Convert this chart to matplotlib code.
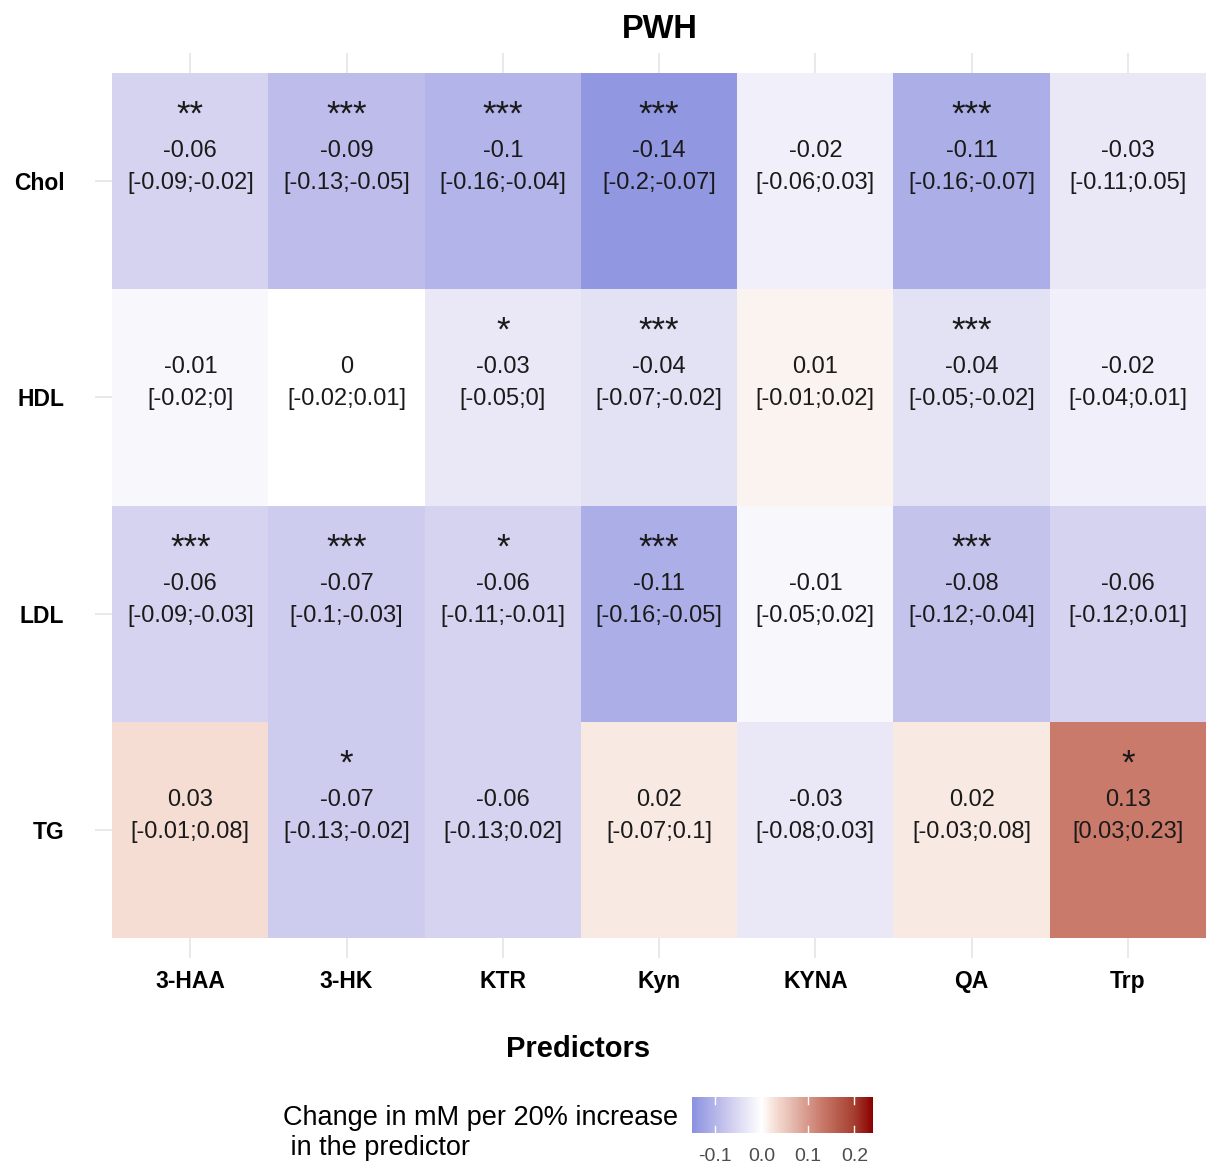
import numpy as np
import matplotlib
matplotlib.use("Agg")
import matplotlib.pyplot as plt
from matplotlib.colors import LinearSegmentedColormap, Normalize
import matplotlib.cm as cm

plt.rcParams['font.family'] = ['Liberation Sans', 'DejaVu Sans']

predictors = ["3-HAA", "3-HK", "KTR", "Kyn", "KYNA", "QA", "Trp"]
outcomes = ["Chol", "HDL", "LDL", "TG"]

est = np.array([
    [-0.06, -0.09, -0.1, -0.14, -0.02, -0.11, -0.03],
    [-0.01, 0, -0.03, -0.04, 0.01, -0.04, -0.02],
    [-0.06, -0.07, -0.06, -0.11, -0.01, -0.08, -0.06],
    [0.03, -0.07, -0.06, 0.02, -0.03, 0.02, 0.13],
])
ci_low = np.array([
    [-0.09, -0.13, -0.16, -0.2, -0.06, -0.16, -0.11],
    [-0.02, -0.02, -0.05, -0.07, -0.01, -0.05, -0.04],
    [-0.09, -0.1, -0.11, -0.16, -0.05, -0.12, -0.12],
    [-0.01, -0.13, -0.13, -0.07, -0.08, -0.03, 0.03],
])
ci_high = np.array([
    [-0.02, -0.05, -0.04, -0.07, 0.03, -0.07, 0.05],
    [0, 0.01, 0, -0.02, 0.02, -0.02, 0.01],
    [-0.03, -0.03, -0.01, -0.05, 0.02, -0.04, 0.01],
    [0.08, -0.02, 0.02, 0.1, 0.03, 0.08, 0.23],
])
stars = [
    ["**", "***", "***", "***", "", "***", ""],
    ["", "", "*", "***", "", "***", ""],
    ["***", "***", "*", "***", "", "***", ""],
    ["", "*", "", "", "", "", "*"],
]

# scale limits of the fill
vmin, vmax = -0.15, 0.24


def fmt(v):
    # R-like number printing
    s = f"{v:g}"
    return "0" if s == "-0" else s


# blue - white - darkred, nodes
nodes = [(-0.15, "#8A91DF"), (-0.14, "#9299E1"), (-0.09, "#BDBCEB"),
         (-0.06, "#D5D3F0"), (0.0, "#FFFFFF"), (0.03, "#F5DDD5"),
         (0.13, "#C97A6A"), (0.2, "#A53E30"), (0.24, "#8B0000")]
cmap = LinearSegmentedColormap.from_list(
    "pwh", [((v - vmin) / (vmax - vmin), c) for v, c in nodes])
norm = Normalize(vmin=vmin, vmax=vmax)

W, H = 1206, 1166
fig = plt.figure(figsize=(W / 100, H / 100), dpi=100)
ax = fig.add_axes([95 / W, 1 - 958 / H, 1 - 95 / W, (958 - 53) / H])

ax.pcolormesh(np.arange(len(predictors) + 1) - 0.5,
              np.arange(len(outcomes) + 1) - 0.5,
              est, cmap=cmap, norm=norm, zorder=2)

for i in range(len(outcomes)):
    for j in range(len(predictors)):
        if stars[i][j]:
            ax.text(j, i - 0.305, stars[i][j], ha='center', va='center',
                    fontsize=25, color='#1a1a1a', zorder=3)
        ax.text(j, i - 0.139, fmt(est[i, j]), ha='center', va='center',
                fontsize=17, color='#1a1a1a', zorder=3)
        ax.text(j, i + 0.009, "[" + fmt(ci_low[i, j]) + ";" + fmt(ci_high[i, j]) + "]",
                ha='center', va='center', fontsize=17, color='#1a1a1a', zorder=3)

ax.set_xlim(-0.61, 6.5)
ax.set_ylim(3.5925, -0.5925)
ax.set_xticks(range(len(predictors)))
ax.set_xticklabels(predictors, fontsize=16.5, fontweight='bold')
ax.set_yticks(range(len(outcomes)))
ax.set_yticklabels(outcomes, fontsize=16.5, fontweight='bold')
ax.tick_params(length=0)
ax.tick_params(axis='x', pad=8.5)
ax.tick_params(axis='y', pad=22)
ax.grid(True, color='#E5E5E5', lw=1.2, zorder=0)
ax.set_axisbelow(True)
for s in ax.spines.values():
    s.set_visible(False)

fig.text(660 / W, 1 - 29 / H, "PWH", ha='center', va='center',
         fontsize=23.5, fontweight='bold')
fig.text(578 / W, 1 - 1049 / H, "Predictors", ha='center', va='center',
         fontsize=21, fontweight='bold')

# legend
fig.text(283 / W, 1 - 1133 / H, "Change in mM per 20% increase\n in the predictor",
         ha='left', va='center', fontsize=19.5, linespacing=1.18)
cax = fig.add_axes([692 / W, 1 - 1133 / H, (873 - 692) / W, 36 / H])
cb = fig.colorbar(cm.ScalarMappable(norm=norm, cmap=cmap), cax=cax,
                  orientation='horizontal')
cb.outline.set_visible(False)
cb.set_ticks([-0.1, 0.0, 0.1, 0.2])
cb.set_ticklabels(["-0.1", "0.0", "0.1", "0.2"])
cax.tick_params(length=0, labelsize=14, labelcolor='#4D4D4D', pad=11)
for t in [-0.1, 0.0, 0.1, 0.2]:
    cax.plot([t, t], [0, 0.2], color='white', lw=1)
    cax.plot([t, t], [0.8, 1], color='white', lw=1)

fig.savefig("out.png", dpi=100)
